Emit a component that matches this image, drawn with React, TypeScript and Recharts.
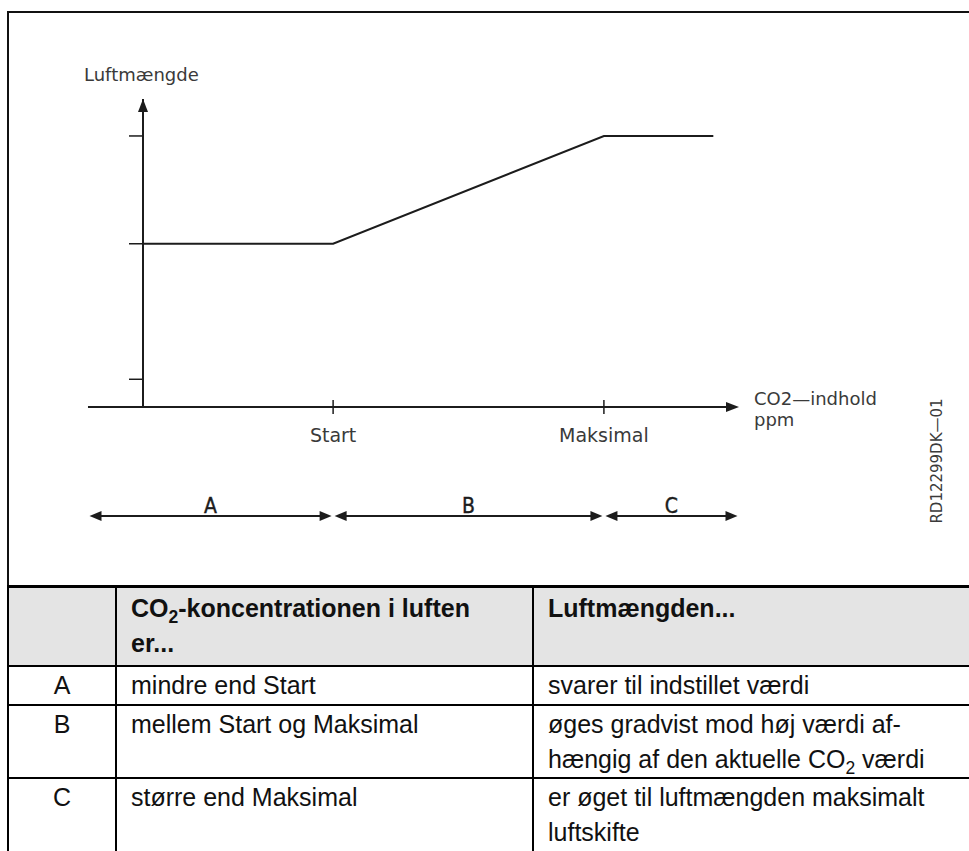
/**
 * Luftmængde vs CO2-indhold — control curve with zone table
 */

import React from 'react';
import { LineChart, Line, XAxis, YAxis, ReferenceLine, ReferenceDot } from 'recharts';

// CO2 axis (relative units, 0 = origin of the y axis)
const xAxisMin = -9;
const xAxisMax = 97.5;
const xStart = 31.1;
const xMaks = 75.4;
const xEnd = 93.3;

// Luftmængde (relative units, 0..100)
const yLow = 53;
const yHigh = 88;

const curveX = [0, xStart, xMaks, xEnd];
const curveY = [yLow, yLow, yHigh, yHigh];

const xTickValues = [xStart, xMaks];
const xTickLabels = ['Start', 'Maksimal'];
const yTickValues = [9, yLow, yHigh];

const zoneNames = ['A', 'B', 'C'];
const zoneBounds = [xAxisMin, xStart, xMaks, xAxisMax];
const zoneLevel = -35.4;

const conditions = ['mindre end Start', 'mellem Start og Maksimal', 'større end Maksimal'];
const effects: React.ReactNode[][] = [
  ['svarer til indstillet værdi'],
  ['øges gradvist mod høj værdi af-', <>hængig af den aktuelle CO<sub style={{ fontSize: '0.7em', lineHeight: 0 }}>2</sub> værdi</>],
  ['er øget til luftmængden maksimalt', 'luftskifte'],
];
const rowHeights = [39, 72, 80];

const curveData = curveX.map((x, i) => ({ x, y: curveY[i] }));

const INK = '#1c1c1c';
const DRAW_FONT = "'DejaVu Sans', sans-serif";
const ZONE_FONT = "'Liberation Sans Narrow', 'DejaVu Sans Condensed', sans-serif";

function XTick(props: any) {
  const { x, y, index } = props;
  return (
    <g>
      <line x1={x} y1={y - 7} x2={x} y2={y + 7} stroke={INK} strokeWidth={1.5} />
      <text x={x} y={y + 35} textAnchor="middle" fontFamily={DRAW_FONT} fontSize={19} fill="#3a3a3a">
        {xTickLabels[index]}
      </text>
    </g>
  );
}

function UpArrow(props: any) {
  const { cx, cy } = props;
  return (
    <g>
      <path d={`M${cx},${cy} L${cx - 5},${cy + 13} L${cx + 5},${cy + 13} Z`} fill={INK} />
      <text x={cx - 59} y={cy - 18} fontFamily={DRAW_FONT} fontSize={18} fill="#3a3a3a">
        Luftmængde
      </text>
    </g>
  );
}

function RightArrow(props: any) {
  const { cx, cy } = props;
  return (
    <g>
      <path d={`M${cx},${cy} L${cx - 13},${cy - 5} L${cx - 13},${cy + 5} Z`} fill={INK} />
      <text x={cx + 15} y={cy - 2} fontFamily={DRAW_FONT} fontSize={18} fill="#3a3a3a">
        <tspan x={cx + 15}>CO2—indhold</tspan>
        <tspan x={cx + 15} dy={21}>ppm</tspan>
      </text>
    </g>
  );
}

function ZoneArrow(props: any) {
  const { x1, y1, x2, name } = props;
  const a = x1 + 1.5;
  const b = x2 - 1.5;
  return (
    <g>
      <line x1={a + 6} y1={y1} x2={b - 6} y2={y1} stroke={INK} strokeWidth={2} />
      <path d={`M${a},${y1} L${a + 12},${y1 - 5} L${a + 12},${y1 + 5} Z`} fill={INK} />
      <path d={`M${b},${y1} L${b - 12},${y1 - 5} L${b - 12},${y1 + 5} Z`} fill={INK} />
      <text
        x={(x1 + x2) / 2}
        y={y1 - 3}
        textAnchor="middle"
        fontFamily={ZONE_FONT}
        fontSize={21}
        stroke={INK}
        strokeWidth={0.4}
        fill={INK}
      >
        {name}
      </text>
    </g>
  );
}

const cell: React.CSSProperties = {
  border: '2px solid #000',
  padding: '1px 14px 0',
  verticalAlign: 'top',
};

export default function App() {
  return (
    <div style={{ position: 'absolute', left: 0, top: 0, width: 969, height: 851, overflow: 'hidden', background: '#fff' }}>
      {/* frame */}
      <div
        style={{
          position: 'absolute', left: 7, top: 11, width: 1000, height: 900,
          borderTop: '2px solid #111', borderLeft: '2px solid #111',
        }}
      />

      <div style={{ position: 'absolute', left: 0, top: 0 }}>
        <LineChart width={969} height={586} data={curveData} margin={{ top: 99, right: 230, bottom: 149, left: 83 }}>
          <XAxis
            type="number"
            dataKey="x"
            domain={[0, xAxisMax]}
            ticks={xTickValues}
            axisLine={false}
            tickLine={false}
            tickSize={0}
            tickMargin={0}
            height={30}
            tick={<XTick />}
            allowDataOverflow
          />
          <YAxis
            type="number"
            domain={[0, 100]}
            ticks={yTickValues}
            width={60}
            tick={() => <g />}
            tickSize={14}
            axisLine={{ stroke: INK, strokeWidth: 2 }}
            tickLine={{ stroke: INK, strokeWidth: 1.5 }}
          />
          <ReferenceLine
            segment={[{ x: xAxisMin, y: 0 }, { x: xAxisMax - 1, y: 0 }]}
            stroke={INK}
            strokeWidth={2}
            ifOverflow="visible"
          />
          <ReferenceDot x={0} y={100} r={1} ifOverflow="visible" shape={UpArrow} />
          <ReferenceDot x={xAxisMax} y={0} r={1} ifOverflow="visible" shape={RightArrow} />
          {zoneNames.map((name, i) => (
            <ReferenceLine
              key={name}
              segment={[{ x: zoneBounds[i], y: zoneLevel }, { x: zoneBounds[i + 1], y: zoneLevel }]}
              ifOverflow="visible"
              shape={(p: any) => <ZoneArrow {...p} name={name} />}
            />
          ))}
          <Line
            type="linear"
            dataKey="y"
            stroke={INK}
            strokeWidth={2}
            dot={false}
            isAnimationActive={false}
          />
        </LineChart>
      </div>

      {/* drawing id */}
      <div
        style={{
          position: 'absolute', left: 937, top: 461, transform: 'translate(-50%, -50%) rotate(-90deg)',
          whiteSpace: 'nowrap', fontFamily: DRAW_FONT, fontSize: 15, color: '#3a3a3a',
        }}
      >
        RD12299DK—01
      </div>

      {/* zone table */}
      <table
        style={{
          position: 'absolute', left: 7, top: 585, width: 1000, borderCollapse: 'collapse', tableLayout: 'fixed',
          fontFamily: "'Liberation Sans', Arial, sans-serif", fontSize: 25, lineHeight: '35px', color: '#111',
        }}
      >
        <colgroup>
          <col style={{ width: 108 }} />
          <col style={{ width: 417 }} />
          <col />
        </colgroup>
        <tbody>
          <tr style={{ background: '#e4e4e4', height: 79 }}>
            <td style={{ ...cell, borderTop: '3px solid #000' }} />
            <td style={{ ...cell, borderTop: '3px solid #000', fontWeight: 'bold', paddingTop: 3 }}>
              CO<sub style={{ fontSize: '0.7em', lineHeight: 0 }}>2</sub>-koncentrationen i luften
              <br />
              er...
            </td>
            <td style={{ ...cell, borderTop: '3px solid #000', fontWeight: 'bold', paddingTop: 3 }}>Luftmængden...</td>
          </tr>
          {zoneNames.map((name, i) => (
            <tr key={name} style={{ height: rowHeights[i] }}>
              <td style={{ ...cell, textAlign: 'center' }}>{name}</td>
              <td style={cell}>{conditions[i]}</td>
              <td style={cell}>
                {effects[i].map((line, j) => (
                  <React.Fragment key={j}>
                    {j > 0 && <br />}
                    {line}
                  </React.Fragment>
                ))}
              </td>
            </tr>
          ))}
        </tbody>
      </table>
    </div>
  );
}
